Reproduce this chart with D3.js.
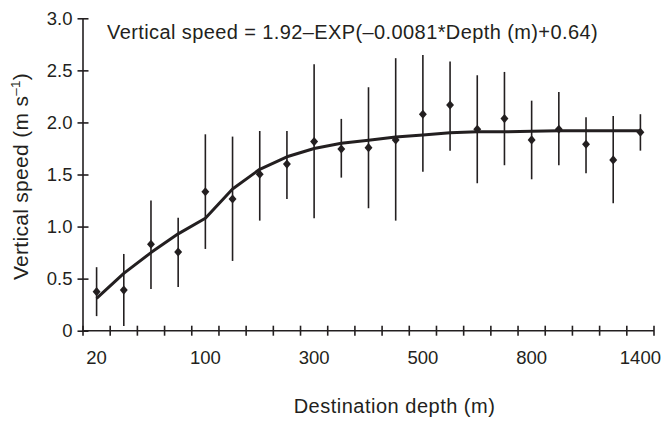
<!DOCTYPE html>
<html><head><meta charset="utf-8">
<script src="https://cdn.jsdelivr.net/npm/d3@7"></script>
<style>body{margin:0;background:#fff}svg{display:block}text{font-family:"Liberation Sans",Arial,sans-serif;fill:#231f20}</style>
</head><body><svg id="c" width="669" height="423"></svg>
<script>
const depths = [20,40,60,80,100,150,200,250,300,350,400,450,500,575,650,725,800,950,1100,1250,1400];
const tickDepths = [20,100,300,500,800,1400];
const means = [0.375,0.39,0.83,0.756,1.335,1.265,1.502,1.60,1.816,1.745,1.758,1.832,2.079,2.168,1.935,2.037,1.832,1.935,1.79,1.64,1.906];
const upper = [0.61,0.737,1.25,1.085,1.886,1.864,1.918,1.918,2.559,2.034,2.338,2.617,2.648,2.584,2.453,2.485,2.209,2.293,2.05,2.062,2.079];
const lower = [0.14,0.045,0.40,0.42,0.785,0.67,1.057,1.265,1.08,1.47,1.176,1.057,1.527,1.729,1.416,1.589,1.454,1.589,1.512,1.224,1.729];
const fitted = [0.31,0.55,0.75,0.93,1.08,1.36,1.55,1.67,1.75,1.80,1.83,1.86,1.88,1.90,1.91,1.91,1.915,1.92,1.92,1.92,1.92];
const yTicks = [0,0.5,1.0,1.5,2.0,2.5,3.0];

const ink = "#231f20";
const svg = d3.select("#c");
const x = d3.scaleBand().domain(depths).range([83, 654]);
const y = d3.scaleLinear().domain([0,3]).range([330.7, 18.3]);
const cx = d => x(d) + x.bandwidth()/2;

// axes
const yAx = svg.append("g").attr("transform","translate(82.5,0)")
  .call(d3.axisLeft(y).tickValues(yTicks).tickSizeInner(5).tickSizeOuter(0)
    .tickFormat(v => v===0 ? "0" : d3.format(".1f")(v)));
yAx.select(".domain").attr("stroke",ink).attr("stroke-width",1.6);
yAx.selectAll(".tick line").attr("stroke",ink).attr("stroke-width",1.6).attr("x1",-5).attr("x2",6);
yAx.selectAll(".tick text").attr("x",-10).attr("font-size",18.5).style("font-family",'"Liberation Sans",Arial,sans-serif').attr("fill",ink);

const edges = depths.map(d => x(d)).concat([x.range()[1]]);
const xAx = svg.append("g").attr("transform","translate(0,330.7)")
  .call(d3.axisBottom(x).tickValues(tickDepths).tickSize(0).tickPadding(20));
xAx.select(".domain").attr("stroke",ink).attr("stroke-width",1.6).attr("d",`M${x.range()[0]-0.5},0H${x.range()[1]}`);
xAx.selectAll(".tick text").attr("font-size",18.5).style("font-family",'"Liberation Sans",Arial,sans-serif').attr("fill",ink);
xAx.selectAll("line.edge").data(edges).enter().append("line").attr("class","edge")
  .attr("x1",d=>d).attr("x2",d=>d).attr("y1",-5).attr("y2",5).attr("stroke",ink).attr("stroke-width",1.6);

// error bars
svg.append("g").selectAll("line").data(depths).enter().append("line")
  .attr("x1",d=>cx(d)).attr("x2",d=>cx(d))
  .attr("y1",(d,i)=>y(upper[i])).attr("y2",(d,i)=>y(lower[i]))
  .attr("stroke",ink).attr("stroke-width",1.6);

// fitted line
svg.append("path").datum(depths)
  .attr("d", d3.line().x(d=>cx(d)).y((d,i)=>y(fitted[i])))
  .attr("fill","none").attr("stroke",ink).attr("stroke-width",3).attr("stroke-linejoin","round");

// points
const sym = d3.symbol().type(d3.symbolDiamond2).size(40);
svg.append("g").selectAll("path").data(depths).enter().append("path")
  .attr("d", sym)
  .attr("transform",(d,i)=>`translate(${cx(d)},${y(means[i])}) scale(1,1.15)`)
  .attr("fill",ink);

// texts
svg.append("text").attr("x",107).attr("y",39).attr("font-size",20).attr("letter-spacing",0.4)
  .text("Vertical speed = 1.92\u2013EXP(\u20130.0081*Depth (m)+0.64)");
svg.append("text").attr("x",394.5).attr("y",413).attr("text-anchor","middle").attr("font-size",20).attr("letter-spacing",0.5)
  .text("Destination depth (m)");
const yl = svg.append("text").attr("transform","translate(28,176.5) rotate(-90)").attr("text-anchor","middle").attr("font-size",21).attr("letter-spacing",0.3);
yl.append("tspan").text("Vertical speed (m s");
yl.append("tspan").attr("font-size",13.5).attr("dy",-8).text("\u20131");
yl.append("tspan").attr("dy",8).text(")");
</script></body></html>
